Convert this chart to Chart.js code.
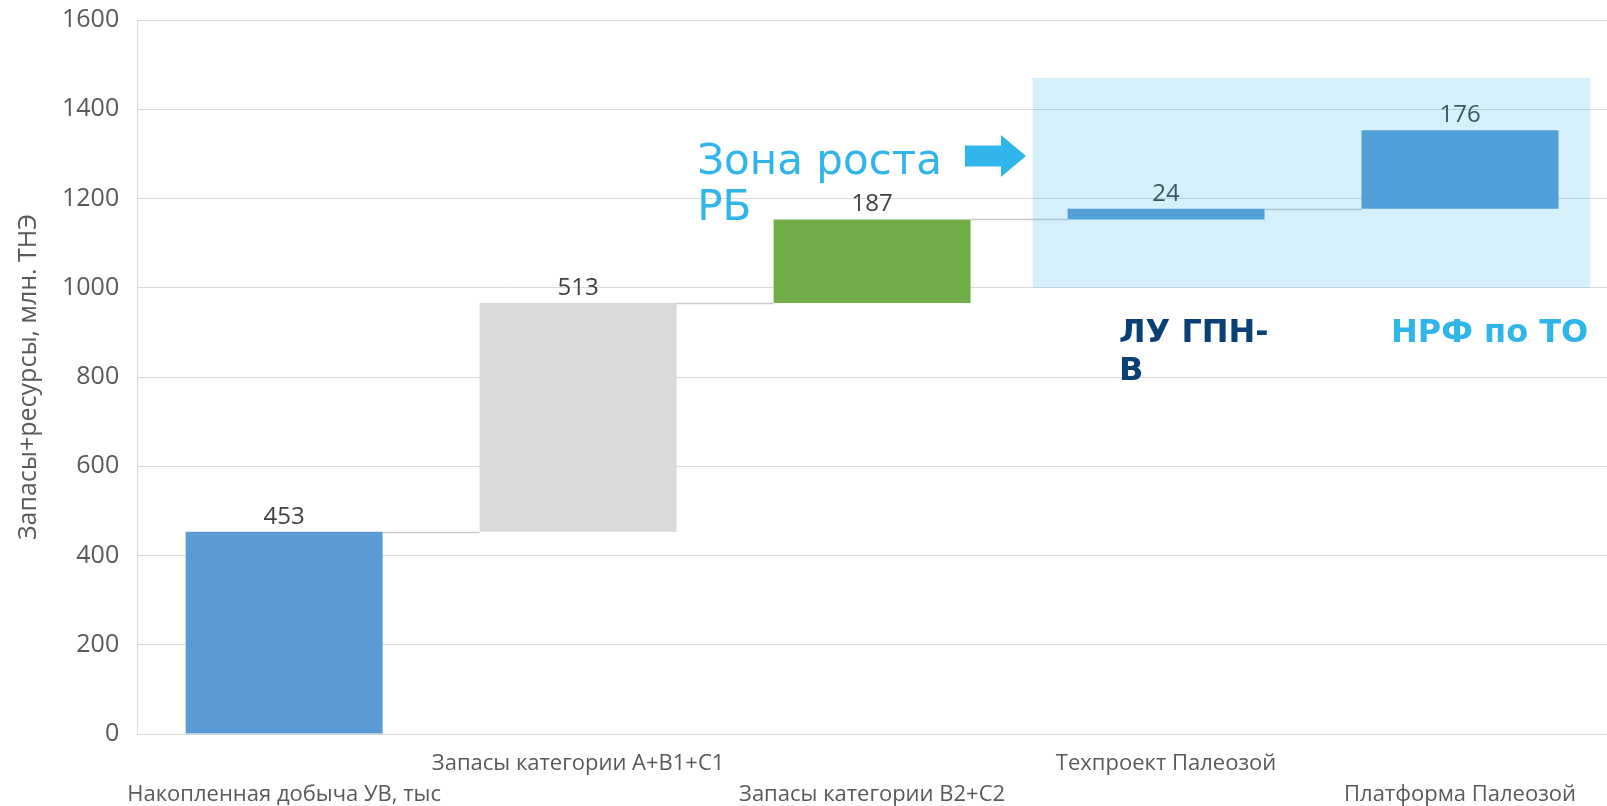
<!DOCTYPE html>
<html lang="ru">
<head>
<meta charset="utf-8">
<title>Запасы+ресурсы</title>
<script src="https://cdn.jsdelivr.net/npm/chart.js@4.4.1/dist/chart.umd.min.js"></script>
<style>
  html, body { margin: 0; padding: 0; background: #fff; overflow: hidden; }
  #wrap { position: relative; width: 1607px; height: 806px; }
</style>
</head>
<body>
<div id="wrap"><canvas id="zapasyChart"></canvas></div>
<script>
// Шаги водопада
const kategorii = ['Накопленная добыча УВ, тыс', 'Запасы категории А+В1+С1', 'Запасы категории В2+С2', 'Техпроект Палеозой', 'Платформа Палеозой'];
// Прирост на каждом шаге, млн. ТНЭ
const prirost = [453, 513, 187, 24, 176];
const cvetaStolbcov = ['#5B9BD5', '#D9D9D9', '#70AD47', '#5B9BD5', '#5B9BD5'];
// Деления оси Y
const yDeleniya = [0, 200, 400, 600, 800, 1000, 1200, 1400, 1600];

// Зона роста (по оси Y) и подписи
const zonaRosta = { ot: 1000, do: 1470 };
const GOLUBOY = '#2FB5EA';

// начало и конец каждого плавающего столбца
const nachalo = [];
const konec = [];
let nakopleno = 0;
prirost.forEach(v => {
    nachalo.push(nakopleno);
    nakopleno += v;
    konec.push(nakopleno);
});

const vodopadPlugin = {
    id: 'vodopad',
    afterDatasetsDraw(chart) {
        const ctx = chart.ctx;
        const meta = chart.getDatasetMeta(0);
        const y = chart.scales.y;

        ctx.save();
        // соединительные линии между столбцами
        ctx.strokeStyle = '#cacaca';
        ctx.lineWidth = 1.5;
        for (let i = 0; i < meta.data.length - 1; i++) {
            const a = meta.data[i], b = meta.data[i + 1];
            const py = Math.round(y.getPixelForValue(konec[i])) + 0.5;
            ctx.beginPath();
            ctx.moveTo(a.x + a.width / 2, py);
            ctx.lineTo(b.x - b.width / 2, py);
            ctx.stroke();
        }

        // подписи значений
        ctx.fillStyle = '#404040';
        ctx.font = '24px "Open Sans"';
        ctx.textAlign = 'center';
        ctx.textBaseline = 'middle';
        meta.data.forEach((bar, i) => {
            const top = Math.min(bar.y, bar.base);
            ctx.fillText(String(prirost[i]), bar.x, top - 15);
        });

        // полупрозрачная голубая зона поверх последних двух столбцов
        const b4 = meta.data[3], b5 = meta.data[4];
        const left = b4.x - b4.width / 2 - 35;
        const right = b5.x + b5.width / 2 + 32;
        const top = y.getPixelForValue(zonaRosta.do);
        const bottom = y.getPixelForValue(zonaRosta.ot);
        ctx.fillStyle = 'rgba(47, 177, 235, 0.2)';
        ctx.fillRect(left, top, right - left, bottom - top);
        ctx.restore();
    },
    afterDraw(chart) {
        const ctx = chart.ctx;
        const x = chart.scales.x;
        const y = chart.scales.y;
        ctx.save();
        ctx.textAlign = 'left';
        ctx.textBaseline = 'alphabetic';

        // "Зона роста РБ"
        ctx.fillStyle = GOLUBOY;
        ctx.font = '42px "DejaVu Sans"';
        ctx.fillText('Зона роста', x.getPixelForValue(1.405), y.getPixelForValue(1255));
        ctx.fillText('РБ', x.getPixelForValue(1.405), y.getPixelForValue(1152));

        // стрелка
        const ax = x.getPixelForValue(2.316);
        const ay = y.getPixelForValue(1295);
        ctx.beginPath();
        ctx.moveTo(ax, ay - 10.5);
        ctx.lineTo(ax + 36, ay - 10.5);
        ctx.lineTo(ax + 36, ay - 21);
        ctx.lineTo(ax + 61, ay);
        ctx.lineTo(ax + 36, ay + 21);
        ctx.lineTo(ax + 36, ay + 10.5);
        ctx.lineTo(ax, ay + 10.5);
        ctx.closePath();
        ctx.fill();

        // подписи участков
        ctx.font = 'bold 32px "DejaVu Sans"';
        ctx.fillStyle = '#0B4077';
        ctx.fillText('ЛУ ГПН-', x.getPixelForValue(2.84), y.getPixelForValue(878));
        ctx.fillText('В', x.getPixelForValue(2.84), y.getPixelForValue(793));
        ctx.fillStyle = GOLUBOY;
        ctx.fillText('НРФ по ТО', x.getPixelForValue(3.765), y.getPixelForValue(878));
        ctx.restore();
    }
};

document.addEventListener('DOMContentLoaded', function() {
    const ctx = document.getElementById('zapasyChart');

    new Chart(ctx.getContext('2d'), {
        type: 'bar',
        data: {
            labels: kategorii,
            datasets: [{
                data: prirost.map((v, i) => [nachalo[i], konec[i]]),
                backgroundColor: cvetaStolbcov,
                borderWidth: 0,
                barPercentage: 0.67,
                categoryPercentage: 1
            }]
        },
        options: {
            responsive: true,
            maintainAspectRatio: false,
            animation: false,
            layout: {
                padding: { left: 14, top: 20, right: 0, bottom: 0 }
            },
            scales: {
                x: {
                    grid: { display: false, drawTicks: false },
                    border: { display: false },
                    afterFit: axis => {
                        axis.height = 72;
                        axis.paddingLeft = 0;
                        axis.paddingRight = 0;
                    },
                    ticks: {
                        autoSkip: false,
                        maxRotation: 0,
                        minRotation: 0,
                        padding: 14,
                        color: '#595959',
                        font: { family: 'Open Sans', size: 22, lineHeight: 1.41 },
                        // подписи категорий идут в два ряда, через одну
                        callback: function(value, index) {
                            const label = this.getLabelForValue(value);
                            return index % 2 === 0 ? ['', label] : [label];
                        }
                    }
                },
                y: {
                    min: 0,
                    max: 1600,
                    afterBuildTicks: axis => {
                        axis.ticks = yDeleniya.map(v => ({ value: v }));
                    },
                    afterFit: axis => {
                        axis.paddingTop = 0;
                        axis.paddingBottom = 0;
                    },
                    grid: { color: '#d9d9d9', lineWidth: 1, drawTicks: false },
                    border: { display: true, color: '#d9d9d9' },
                    ticks: {
                        padding: 18,
                        color: '#595959',
                        font: { family: 'Open Sans', size: 25 },
                        callback: value => String(value)
                    },
                    title: {
                        display: true,
                        text: 'Запасы+ресурсы, млн. ТНЭ',
                        color: '#595959',
                        font: { family: 'Open Sans', size: 25 },
                        padding: { top: 0, bottom: 0 }
                    }
                }
            },
            plugins: {
                legend: { display: false },
                tooltip: { enabled: false }
            }
        },
        plugins: [vodopadPlugin]
    });
});
</script>
</body>
</html>
